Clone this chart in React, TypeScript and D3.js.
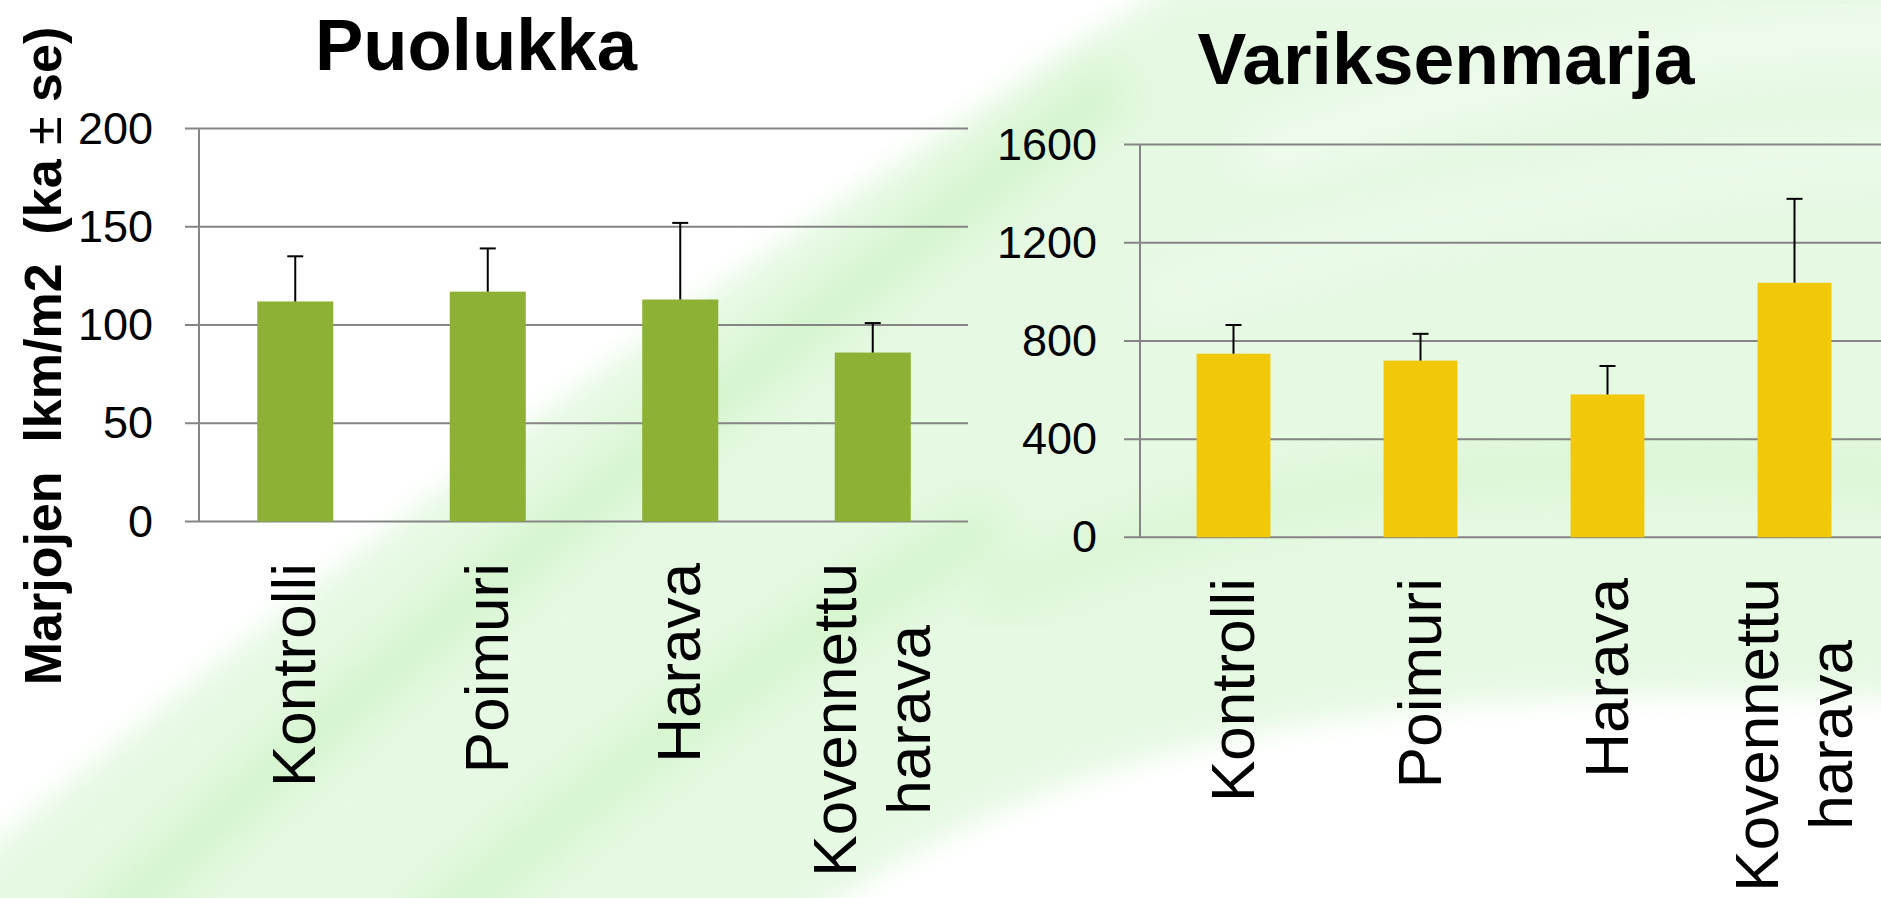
import React from 'react';
import * as d3 from 'd3';

const categoryLines: string[][] = [['Kontrolli'], ['Poimuri'], ['Harava'], ['Kovennettu', 'harava']];
const puolukkaMeans = [112, 117, 113, 86];
const puolukkaSE = [23, 22, 39, 15];
const variksenmarjaMeans = [748, 720, 582, 1037];
const variksenmarjaSE = [117, 109, 116, 342];
const puolukkaTicks = [0, 50, 100, 150, 200];
const variksenmarjaTicks = [0, 400, 800, 1200, 1600];

const W = 1881;
const H = 898;
const FONT = '"Liberation Sans", Arial, Helvetica, sans-serif';

let ctx: CanvasRenderingContext2D | null = null;
function measure(text: string, font: string): number {
  if (!ctx) ctx = document.createElement('canvas').getContext('2d');
  if (!ctx) return text.length * 30;
  ctx.font = font;
  return ctx.measureText(text).width;
}

type ChartProps = {
  title: string;
  titleX: number;
  titleY: number;
  titleLen: number;
  axisX0: number;
  axisX1: number;
  yTop: number;
  yBottom: number;
  gridX0: number;
  gridX1: number;
  tickRight: number;
  labelY: number;
  domainMax: number;
  ticks: number[];
  means: number[];
  se: number[];
  color: string;
};

function Chart(p: ChartProps) {
  const idx = categoryLines.map((_, i) => String(i));
  const x = d3
    .scaleBand<string>()
    .domain(idx)
    .range([p.axisX0, p.axisX1])
    .paddingInner(0.605)
    .paddingOuter(0.3025);
  const y = d3.scaleLinear().domain([0, p.domainMax]).range([p.yBottom, p.yTop]);
  const labelFont = `62px ${FONT}`;
  const lineH = 74;
  return (
    <g>
      <text
        x={p.titleX}
        y={p.titleY}
        textAnchor="middle"
        fontFamily={FONT}
        fontWeight="bold"
        fontSize={73}
        textLength={p.titleLen}
        lengthAdjust="spacingAndGlyphs"
        fill="#000"
      >
        {p.title}
      </text>
      {p.ticks.map((t) => (
        <g key={t}>
          <line x1={p.gridX0} x2={p.gridX1} y1={y(t)} y2={y(t)} stroke="#858585" strokeWidth={2} />
          <text
            x={p.tickRight}
            y={y(t) + 15}
            textAnchor="end"
            fontFamily={FONT}
            fontSize={45}
            fill="#000"
          >
            {t}
          </text>
        </g>
      ))}
      <line x1={p.axisX0} x2={p.axisX0} y1={y(p.domainMax)} y2={y(0)} stroke="#858585" strokeWidth={2} />
      {p.means.map((m, i) => {
        const bx = x(String(i)) as number;
        const bw = x.bandwidth();
        const cx = bx + bw / 2;
        return (
          <g key={i}>
            <rect x={bx} y={y(m)} width={bw} height={y(0) - y(m)} fill={p.color} />
            <line x1={cx} x2={cx} y1={y(m)} y2={y(m + p.se[i])} stroke="#000" strokeWidth={2} />
            <line x1={cx - 8} x2={cx + 8} y1={y(m + p.se[i])} y2={y(m + p.se[i])} stroke="#000" strokeWidth={2} />
          </g>
        );
      })}
      {categoryLines.map((lines, i) => {
        const cx = (x(String(i)) as number) + x.bandwidth() / 2;
        const maxLen = Math.max(...lines.map((l) => measure(l, labelFont)));
        const n = lines.length;
        return (
          <g key={i} transform={`translate(${cx},${p.labelY}) rotate(-90)`}>
            {lines.map((l, j) => (
              <text
                key={j}
                x={-maxLen / 2}
                y={20 + (j - (n - 1) / 2) * lineH}
                textAnchor="middle"
                fontFamily={FONT}
                fontSize={62}
                fill="#000"
              >
                {l}
              </text>
            ))}
          </g>
        );
      })}
    </g>
  );
}

function Background() {
  return (
    <g>
      <defs>
        <filter id="blurA" x="-20%" y="-20%" width="140%" height="140%">
          <feGaussianBlur stdDeviation="14" />
        </filter>
        <filter id="blurB" x="-20%" y="-20%" width="140%" height="140%">
          <feGaussianBlur stdDeviation="22" />
        </filter>
      </defs>
      <rect x={0} y={0} width={W} height={H} fill="#ffffff" />
      <path
        d="M -60,890 C 300,590 700,280 1180,-20 L 1960,-20 L 1960,700 C 1450,680 1080,710 780,940 L -60,940 Z"
        fill="#e6f9e3"
        filter="url(#blurA)"
      />
      <path d="M 90,940 C 380,660 740,380 1120,80" stroke="#d4f4cd" strokeWidth={55} fill="none" filter="url(#blurB)" />
      <path d="M 420,940 C 620,760 820,620 1000,520" stroke="#d6f5cf" strokeWidth={60} fill="none" filter="url(#blurB)" />
      <path d="M 980,600 C 1280,470 1600,440 1940,480" stroke="#d9f5d3" strokeWidth={45} fill="none" filter="url(#blurB)" />
      <path d="M 1250,160 C 1480,70 1700,40 1940,30" stroke="#f1fcef" strokeWidth={40} fill="none" filter="url(#blurB)" />
      <path d="M 1150,300 C 1400,220 1650,170 1940,150" stroke="#eefbec" strokeWidth={30} fill="none" filter="url(#blurB)" />
    </g>
  );
}

export default function App() {
  return (
    <svg
      width={W}
      height={H}
      viewBox={`0 0 ${W} ${H}`}
      style={{ position: 'absolute', left: 0, top: 0, display: 'block' }}
    >
      <style>{`body{margin:0}`}</style>
      <Background />
      <text
        transform="translate(61,356) rotate(-90)"
        textAnchor="middle"
        fontFamily={FONT}
        fontWeight="bold"
        fontSize={52}
        fill="#000"
        style={{ whiteSpace: 'pre' }}
      >
        {'Marjojen  lkm/m2  (ka '}
        <tspan fontWeight="normal">±</tspan>
        {' se)'}
      </text>
      <Chart
        title="Puolukka"
        titleX={476}
        titleY={70}
        titleLen={322}
        axisX0={199}
        axisX1={969}
        yTop={128.6}
        yBottom={521.5}
        gridX0={185}
        gridX1={968}
        tickRight={153}
        labelY={563}
        domainMax={200}
        ticks={puolukkaTicks}
        means={puolukkaMeans}
        se={puolukkaSE}
        color="#8cb134"
      />
      <Chart
        title="Variksenmarja"
        titleX={1446}
        titleY={84}
        titleLen={497}
        axisX0={1140}
        axisX1={1888}
        yTop={144.6}
        yBottom={537.3}
        gridX0={1124}
        gridX1={1881}
        tickRight={1097}
        labelY={578}
        domainMax={1600}
        ticks={variksenmarjaTicks}
        means={variksenmarjaMeans}
        se={variksenmarjaSE}
        color="#f2c80a"
      />
    </svg>
  );
}
